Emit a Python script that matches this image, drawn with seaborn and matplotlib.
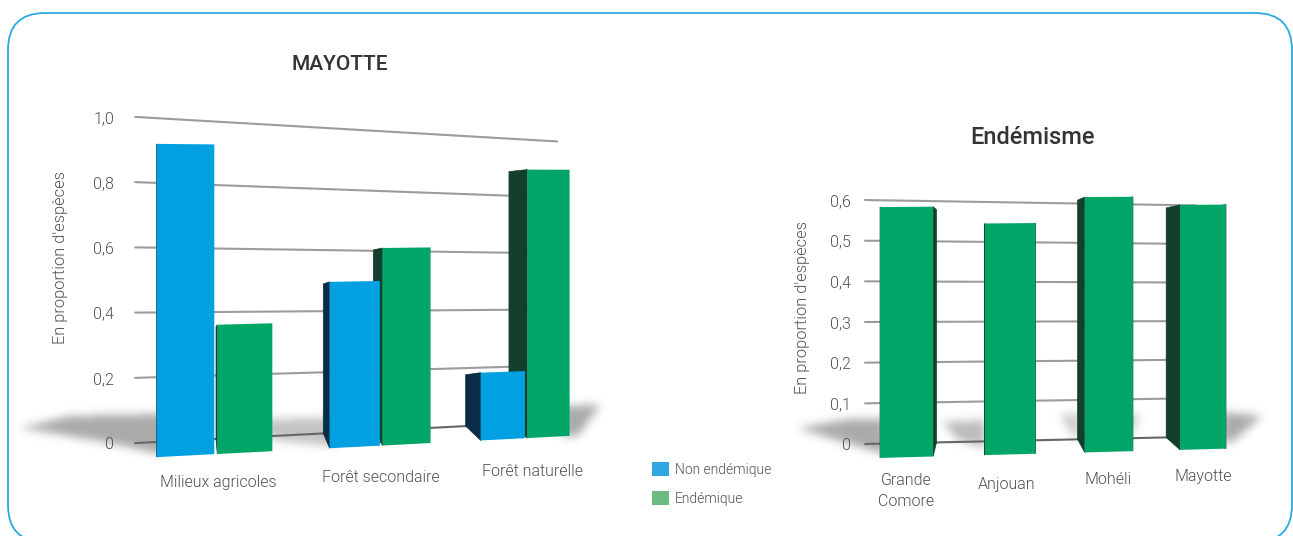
import numpy as np
import pandas as pd
import matplotlib
matplotlib.use('Agg')
import matplotlib.pyplot as plt
import seaborn as sns
from matplotlib.patches import FancyBboxPatch, Patch, Polygon
from matplotlib.path import Path
from matplotlib.transforms import Affine2D, Transform

W, H = 1293, 536

# left chart
habitats = ['Milieux agricoles', 'Forêt secondaire', 'Forêt naturelle']
non_endemic = [0.91, 0.50, 0.21]
endemic = [0.38, 0.60, 0.84]
left_ticks = [0, 0.2, 0.4, 0.6, 0.8, 1.0]
left_ticklabels = ['0', '0,2', '0,4', '0,6', '0,8', '1,0']

# right chart
islands = ['Grande\nComore', 'Anjouan', 'Mohéli', 'Mayotte']
island_endemism = [0.58, 0.54, 0.60, 0.58]
right_ticks = [0, 0.1, 0.2, 0.3, 0.4, 0.5, 0.6]
right_ticklabels = ['0', '0,1', '0,2', '0,3', '0,4', '0,5', '0,6']

BLUE = '#00A0E1'
GREEN = '#00A567'
BLUE_SIDE = '#0B2C45'
GREEN_SIDE = '#12402C'
TEXT = '#505050'

sns.set_theme(style='white')
plt.rcParams['font.family'] = ['Roboto', 'DejaVu Sans']
plt.rcParams['font.weight'] = 300


class Plane(Transform):
    # fake 3D wall: x goes through a 1D perspective (a to b, r = foreshortening),
    # y is read between a bottom and a top line given in picture pixels
    input_dims = 2
    output_dims = 2

    def __init__(self, xlim, ymax, a, b, r, left, right):
        super().__init__()
        self.xlim, self.ymax = xlim, ymax
        self.a, self.b, self.r = a, b, r
        self.left, self.right = left, right

    def transform_non_affine(self, values):
        v = np.asarray(values, dtype=float)
        u = (v[:, 0] - self.xlim[0]) / (self.xlim[1] - self.xlim[0])
        x = (self.a * (1 - u) + self.r * self.b * u) / (1 - u + self.r * u)
        s = (x - self.left[0]) / (self.right[0] - self.left[0])
        y0 = self.left[1] + s * (self.right[1] - self.left[1])
        y1 = self.left[2] + s * (self.right[2] - self.left[2])
        y = y0 + (y1 - y0) * v[:, 1] / self.ymax
        return np.column_stack([x, H - y])


px = Affine2D().scale(1, -1).translate(0, H)


def shadow_layer(shapes, sigma=4.5):
    # floor shadows, blurred polygon masks on one full-size picture
    yy, xx = np.mgrid[0:H, 0:W]
    grid = np.column_stack([xx.ravel() + 0.5, yy.ravel() + 0.5])
    alpha = np.zeros((H, W))
    k = np.exp(-0.5 * (np.arange(-14, 15) / sigma) ** 2)
    k /= k.sum()
    for pts, dark in shapes:
        mask = Path(pts).contains_points(grid).reshape(H, W).astype(float)
        mask = np.apply_along_axis(np.convolve, 0, mask, k, mode='same')
        mask = np.apply_along_axis(np.convolve, 1, mask, k, mode='same')
        alpha = np.maximum(alpha, mask * dark)
    rgba = np.zeros((H, W, 4))
    rgba[..., :3] = 0.33
    rgba[..., 3] = alpha
    return rgba


def warp_bars(ax, front, back, sides, side_colors, grid_x, top_drop):
    for y in ax.get_yticks():
        ax.plot(grid_x, [y, y], color='#666666' if y == 0 else '#9c9c9c', lw=1.5,
                transform=back, clip_on=False, zorder=1)
    for bar in list(ax.patches):
        x0, x1, top = bar.get_x(), bar.get_x() + bar.get_width(), bar.get_height()
        color = side_colors[matplotlib.colors.to_hex(bar.get_facecolor()).upper()]
        for xs in [x0, x1][:sides]:
            corners = [(xs, 0), (xs, top)]
            poly = np.vstack([front.transform(np.array(corners)),
                              back.transform(np.array(corners[::-1]))])
            poly[2, 1] = poly[1, 1] - top_drop
            ax.add_patch(Polygon(poly, closed=True, fc=color, ec=color, lw=0.5,
                                 transform=Affine2D(), clip_on=False, zorder=2))
        bar.set_transform(front)
        bar.set_clip_on(False)
        bar.set_zorder(3)


def style_axes(ax, ticks, ticklabels, pad):
    ax.set_xticks([])
    ax.set_yticks(ticks, ticklabels)
    ax.tick_params(axis='y', length=0, pad=pad, labelsize=11.5, labelcolor=TEXT)
    ax.set_xlabel('')
    ax.set_ylabel('')
    ax.patch.set_visible(False)
    sns.despine(ax=ax, left=True, bottom=True)


fig = plt.figure(figsize=(W / 100, H / 100), dpi=100, facecolor='white')

fig.add_artist(FancyBboxPatch((8, 13), 1284, 529, boxstyle='round,pad=0,rounding_size=37',
                              fc='white', ec='#29ABE2', lw=1.3, transform=px, zorder=-1))

shadows = [
    ([(20, 428), (70, 416), (165, 414), (165, 455), (100, 441)], 0.5),
    ([(240, 425), (275, 419), (335, 417), (335, 446), (280, 441)], 0.35),
    ([(562, 406), (600, 405), (578, 436), (562, 436)], 0.5),
    ([(797, 428), (850, 419), (885, 419), (885, 454), (840, 441)], 0.5),
    ([(942, 422), (985, 420), (985, 448), (958, 440)], 0.4),
    ([(1060, 415), (1080, 413), (1080, 440), (1070, 432)], 0.3),
    ([(1128, 414), (1140, 415), (1128, 440)], 0.35),
    ([(1222, 412), (1262, 416), (1232, 442), (1222, 442)], 0.5),
]
fig.figimage(shadow_layer(shadows), zorder=-0.5, origin='upper')

# left chart
df_left = pd.DataFrame({
    'habitat': habitats * 2,
    'statut': ['Non endémique'] * 3 + ['Endémique'] * 3,
    'valeur': non_endemic + endemic,
})
ax1 = fig.add_axes([135 / W, (H - 443) / H, 422 / W, 326 / H])
sns.barplot(data=df_left, x='habitat', y='valeur', hue='statut', ax=ax1, width=0.67, gap=0.05,
            palette={'Non endémique': BLUE, 'Endémique': GREEN}, saturation=1,
            errorbar=None, legend=False, linewidth=0)
style_axes(ax1, left_ticks, left_ticklabels, 15)

front1 = Plane((-0.5, 2.5), 1.0, 124, 592, 1.22, (130, 458.5, 112.5), (597, 434.5, 119.5))
back1 = Plane((-0.5, 2.5), 1.0, 126, 569, 1.25, (137, 443, 117), (584, 420, 143))
warp_bars(ax1, front1, back1, 1, {BLUE.upper(): BLUE_SIDE, GREEN.upper(): GREEN_SIDE},
          [-0.45, 2.4], 2)

ax1.set_xlim(-0.5, 2.5)
ax1.set_ylim(0, 1)

# right chart
df_right = pd.DataFrame({'ile': islands, 'valeur': island_endemism})
ax2 = fig.add_axes([865 / W, (H - 444) / H, 350 / W, 244 / H])
sns.barplot(data=df_right, x='ile', y='valeur', ax=ax2, width=0.5, color=GREEN, saturation=1,
            errorbar=None, linewidth=0)
style_axes(ax2, right_ticks, right_ticklabels, 10)

front2 = Plane((-0.5, 3.5), 0.6, 853, 1248.6, 1.1, (855, 458.6, 198.6), (1250, 448, 196))
back2 = Plane((-0.5, 3.5), 0.6, 862, 1230, 1.1, (864, 444, 200), (1231, 436, 206))
warp_bars(ax2, front2, back2, 2, {GREEN.upper(): GREEN_SIDE}, [-0.47, 3.1], 3)

ax2.set_xlim(-0.5, 3.5)
ax2.set_ylim(0, 0.6)

# titles, axis names and category names
fig.text(340 / W, (H - 65) / H, 'MAYOTTE', ha='center', va='center', fontsize=15,
         weight=500, color='#333333')
fig.text(1032 / W, (H - 138) / H, 'Endémisme', ha='center', va='center', fontsize=17,
         weight=500, color='#333333')
fig.text(61 / W, (H - 258) / H, "En proportion d'espèces", rotation=90, ha='center', va='center',
         fontsize=11.8, color=TEXT)
fig.text(802 / W, (H - 308) / H, "En proportion d'espèces", rotation=90, ha='center', va='center',
         fontsize=11.8, color=TEXT)

left_label_xy = [(218, 483), (381, 478), (533, 472)]
right_label_xy = [(906, 491), (1007, 484), (1108, 480), (1203, 477)]
for name, (x, y) in zip(habitats + islands, left_label_xy + right_label_xy):
    fig.text(x / W, (H - y) / H, name, ha='center', va='center', fontsize=11.5, color=TEXT,
             linespacing=1.45)

handles = [Patch(fc='#2FA8E0', ec='none', label='Non endémique'),
           Patch(fc='#6CBB82', ec='none', label='Endémique')]
fig.legend(handles=handles, loc='upper left', bbox_to_anchor=(652 / W, (H - 462) / H),
           frameon=False, fontsize=10, handlelength=1.22, handleheight=1.22, labelspacing=1.0,
           handletextpad=0.45, borderpad=0, borderaxespad=0, labelcolor=TEXT)

fig.savefig('out.png', dpi=100)
